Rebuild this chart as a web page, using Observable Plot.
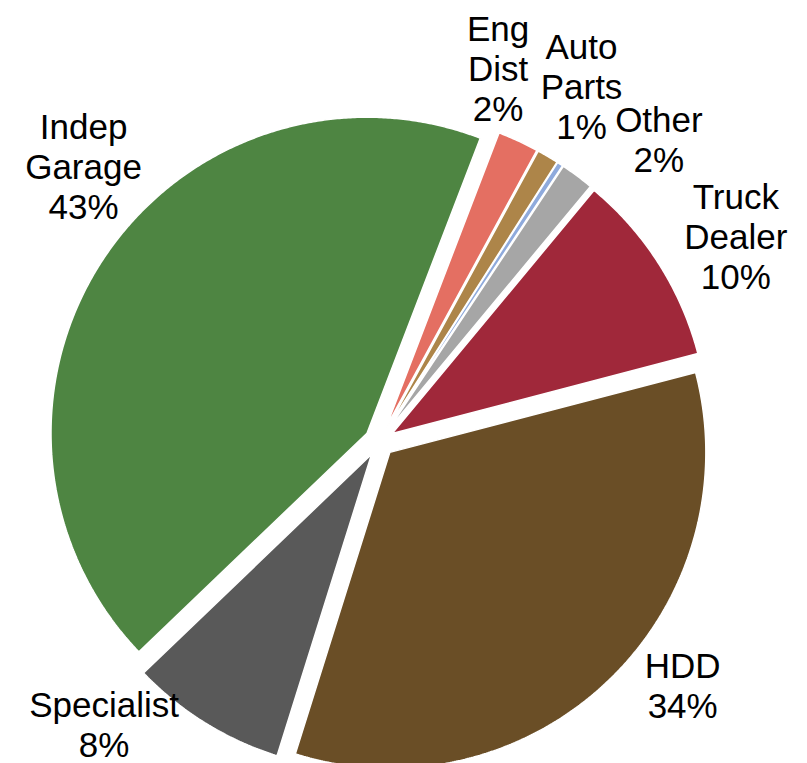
<!DOCTYPE html>
<html>
<head>
<meta charset="utf-8">
<script src="https://cdn.jsdelivr.net/npm/d3@7"></script>
<script src="https://cdn.jsdelivr.net/npm/@observablehq/plot@0.6"></script>
<style>
  html, body { margin: 0; padding: 0; background: #fff; }
</style>
</head>
<body>
<div id="chart"></div>
<script>
// ---- data ----
const categories = ["Eng Dist", "Auto Parts", "Unlabeled", "Other", "Truck Dealer", "HDD", "Specialist", "Indep Garage"];
const labelNames = ["Eng\nDist", "Auto\nParts", "", "Other", "Truck\nDealer", "HDD", "Specialist", "Indep\nGarage"];
const shares = [2.1, 1.1, 0.3, 1.7, 9.9, 33.9, 8.0, 43.0];
const colors = ["#E46F62", "#AD8549", "#8FAADC", "#A6A6A6", "#A0283A", "#6A4E26", "#595959", "#4E8542"];

// ---- layout ----
const W = 807, H = 763;
const cx = 379, cy = 441, R = 316, explode = 15;
const startDeg = 21;
// label placement (polar, relative to pie centre): angle in degrees clockwise from north, distance in px
const labelAngle = [17.6, 29.6, null, 42.7, 60.1, 128.8, 224.2, 312.9];
const labelDist  = [392, 409, null, 412, 411, 389, 395, 404];

const total = d3.sum(shares);
const pie = d3.pie().sort(null).value(d => d)
  .startAngle(startDeg * Math.PI / 180)
  .endAngle(startDeg * Math.PI / 180 + 2 * Math.PI);
const arcs = pie(shares);

const points = [];
arcs.forEach((a, i) => {
  const mid = (a.startAngle + a.endAngle) / 2;
  const ox = cx + explode * Math.sin(mid);
  const oy = cy - explode * Math.cos(mid);
  const name = categories[i];
  points.push({name, x: ox, y: oy});
  const n = Math.max(2, Math.ceil((a.endAngle - a.startAngle) / (0.4 * Math.PI / 180)));
  for (let k = 0; k <= n; k++) {
    const t = a.startAngle + (a.endAngle - a.startAngle) * k / n;
    points.push({name, x: ox + R * Math.sin(t), y: oy - R * Math.cos(t)});
  }
  points.push({name, x: ox, y: oy});
});

const fmt = d3.format(".0%");
const labels = [];
categories.forEach((c, i) => {
  if (!labelNames[i]) return;
  const ang = labelAngle[i] * Math.PI / 180;
  labels.push({
    text: labelNames[i] + "\n" + fmt(shares[i] / total),
    x: cx + labelDist[i] * Math.sin(ang),
    y: cy - labelDist[i] * Math.cos(ang)
  });
});

const chart = Plot.plot({
  width: W,
  height: H,
  margin: 0,
  x: {domain: [0, W], range: [0, W], axis: null},
  y: {domain: [0, H], range: [0, H], axis: null},
  color: {domain: categories, range: colors},
  style: {background: "#fff"},
  marks: [
    Plot.line(points, {x: "x", y: "y", z: "name", fill: "name", stroke: "white", strokeWidth: 1.5, strokeLinejoin: "miter"}),
    Plot.text(labels, {
      x: "x", y: "y", text: "text",
      fontSize: 35, lineHeight: 1.143,
      fontFamily: "'Liberation Sans', Arial, sans-serif",
      fill: "black", textAnchor: "middle", lineAnchor: "middle"
    })
  ]
});
document.getElementById("chart").appendChild(chart);
</script>
</body>
</html>
